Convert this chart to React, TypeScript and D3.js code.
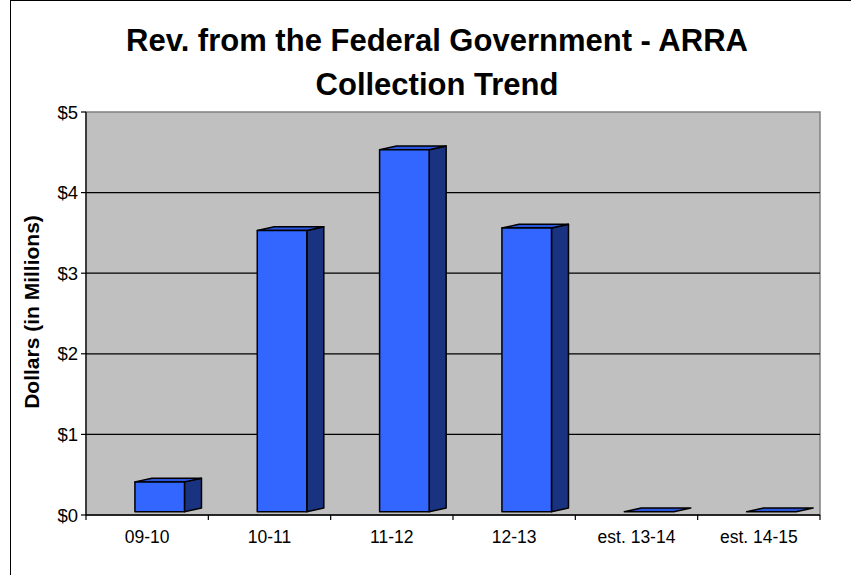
import React from "react";
import * as d3 from "d3";

const categories = ["09-10", "10-11", "11-12", "12-13", "est. 13-14", "est. 14-15"];
const values = [0.37, 3.49, 4.49, 3.52, 0, 0];
const yTicks = [0, 1, 2, 3, 4, 5];
const titleLines = ["Rev. from the Federal Government - ARRA", "Collection Trend"];
const yAxisTitle = "Dollars (in Millions)";

const W = 851;
const H = 575;
const plotLeft = 86;
const plotRight = 820;
const plotTop = 112;
const plotBottom = 515;
const depthX = 17;
const depthY = 3.7;
const floorLift = 3.3;
const FONT = "Arial, 'Liberation Sans', Helvetica, sans-serif";

export default function App() {
  const x = d3.scaleBand<string>().domain(categories).range([plotLeft, plotRight]).padding(0);
  const y = d3.scaleLinear().domain([0, 5]).range([plotBottom, plotTop]);
  const bw = x.bandwidth();
  const fmt = (v: number) => `$${d3.format("d")(v)}`;

  return (
    <svg width={W} height={H} style={{ position: "absolute", left: 0, top: 0, background: "#fff" }}>
      <rect x={10.5} y={0.5} width={W + 10} height={H + 10} fill="#fff" stroke="#000" strokeWidth={1} />
      {titleLines.map((t, i) => (
        <text key={i} x={437} y={51 + i * 44} textAnchor="middle" fontFamily={FONT} fontWeight="bold" fontSize={31} fill="#000">
          {t}
        </text>
      ))}
      <rect x={plotLeft} y={plotTop} width={plotRight - plotLeft} height={plotBottom - plotTop} fill="#c0c0c0" stroke="#808080" strokeWidth={1.5} />
      {yTicks.filter((v) => v > 0 && v < 5).map((v) => (
        <line key={v} x1={plotLeft} x2={plotRight} y1={y(v)} y2={y(v)} stroke="#000" strokeWidth={1.2} />
      ))}
      <line x1={plotLeft} x2={plotLeft} y1={plotTop} y2={plotBottom} stroke="#000" strokeWidth={1.2} />
      <line x1={plotLeft} x2={plotRight} y1={plotBottom} y2={plotBottom} stroke="#000" strokeWidth={1.5} />
      {yTicks.map((v) => (
        <g key={v}>
          <line x1={plotLeft - 5} x2={plotLeft} y1={y(v)} y2={y(v)} stroke="#000" strokeWidth={1.2} />
          <text x={78} y={y(v) + 6.5} textAnchor="end" fontFamily={FONT} fontSize={18.5} fill="#000">
            {fmt(v)}
          </text>
        </g>
      ))}
      {[...categories.map((c) => x(c)!), plotRight].map((px, i) => (
        <line key={i} x1={px} x2={px} y1={plotBottom} y2={plotBottom + 5} stroke="#000" strokeWidth={1.2} />
      ))}
      {categories.map((c) => (
        <text key={c} x={x(c)! + bw / 2} y={543} textAnchor="middle" fontFamily={FONT} fontSize={17.5} fill="#000">
          {c}
        </text>
      ))}
      <text
        transform={`translate(39,312) rotate(-90)`}
        textAnchor="middle"
        fontFamily={FONT}
        fontWeight="bold"
        fontSize={21}
        fill="#000"
      >
        {yAxisTitle}
      </text>
      {categories.map((c, i) => {
        const v = values[i];
        const fl = x(c)! + bw * 0.4;
        const fr = fl + bw * 0.405;
        const bottom = y(0) - floorLift;
        const top = y(v) - floorLift;
        const side = `${fr},${top} ${fr + depthX},${top - depthY} ${fr + depthX},${bottom - depthY} ${fr},${bottom}`;
        const topFace = `${fl},${top} ${fl + depthX},${top - depthY} ${fr + depthX},${top - depthY} ${fr},${top}`;
        const h = bottom - top;
        return (
          <g key={c} stroke="#000" strokeWidth={1.5} strokeLinejoin="round">
            {h > 0.5 && <polygon points={side} fill="#1a3380" />}
            <polygon points={topFace} fill="#2b55dd" />
            {h > 0.5 && <rect x={fl} y={top} width={fr - fl} height={h} fill="#3366ff" />}
          </g>
        );
      })}
    </svg>
  );
}
